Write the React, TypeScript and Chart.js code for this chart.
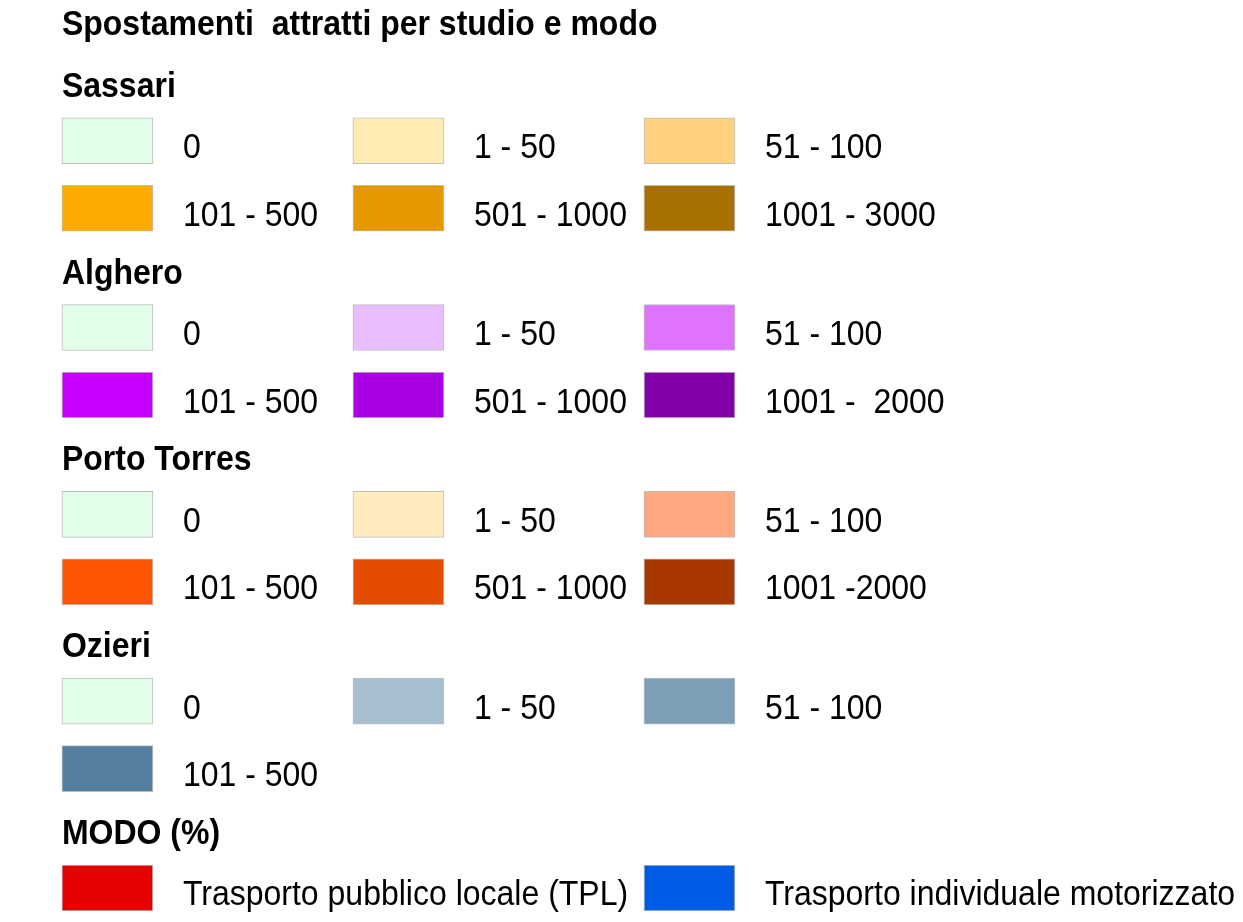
import React, { useEffect, useRef } from "react";
import { Chart, registerables } from "chart.js";

Chart.register(...registerables);

// ---- Data ----
const TITLE = "Spostamenti  attratti per studio e modo";

const GROUP_NAMES = ["Sassari", "Alghero", "Porto Torres", "Ozieri", "MODO (%)"];

const SASSARI_LABELS = ["0", "1 - 50", "51 - 100", "101 - 500", "501 - 1000", "1001 - 3000"];
const SASSARI_COLORS = ["#E3FEE8", "#FFEBB4", "#FFD17F", "#FFAA00", "#E69800", "#A87000"];

const ALGHERO_LABELS = ["0", "1 - 50", "51 - 100", "101 - 500", "501 - 1000", "1001 -  2000"];
const ALGHERO_COLORS = ["#E3FEE8", "#E8BEFF", "#DF73FF", "#C500FF", "#A900E6", "#8400A8"];

const PORTO_TORRES_LABELS = ["0", "1 - 50", "51 - 100", "101 - 500", "501 - 1000", "1001 -2000"];
const PORTO_TORRES_COLORS = ["#E3FEE8", "#FFEBBE", "#FFA77F", "#FF5500", "#E64C00", "#A83800"];

const OZIERI_LABELS = ["0", "1 - 50", "51 - 100", "101 - 500"];
const OZIERI_COLORS = ["#E3FEE8", "#A8BFCF", "#7D9EB7", "#557F9F"];

const MODO_LABELS = ["Trasporto pubblico locale (TPL)", "Trasporto individuale motorizzato"];
const MODO_COLORS = ["#E60000", "#005CE6"];

// ---- Layout (not data) ----
const PER_ROW = 3;
const HEADER_GAP = 0.767; // extra row units taken by each group header
const BAR_HALF = 0.34;
const MODO_COLUMNS = [0, 2];
const FONT = '"Liberation Sans", Arial, sans-serif';
const V_STRETCH = 1.1;

type Group = { name: string; labels: string[]; colors: string[]; columns?: number[] };

const GROUPS: Group[] = [
  { name: GROUP_NAMES[0], labels: SASSARI_LABELS, colors: SASSARI_COLORS },
  { name: GROUP_NAMES[1], labels: ALGHERO_LABELS, colors: ALGHERO_COLORS },
  { name: GROUP_NAMES[2], labels: PORTO_TORRES_LABELS, colors: PORTO_TORRES_COLORS },
  { name: GROUP_NAMES[3], labels: OZIERI_LABELS, colors: OZIERI_COLORS },
  { name: GROUP_NAMES[4], labels: MODO_LABELS, colors: MODO_COLORS, columns: MODO_COLUMNS },
];

function buildDatasets() {
  let rowBase = 0;
  return GROUPS.map((g, k) => {
    const rows = g.columns ? 1 : Math.ceil(g.labels.length / PER_ROW);
    const data = g.labels.map((_, i) => {
      const col = g.columns ? g.columns[i] : i % PER_ROW;
      const r = g.columns ? 0 : Math.floor(i / PER_ROW);
      const u = rowBase + r + HEADER_GAP * k;
      return { x: col, y: [u - BAR_HALF, u + BAR_HALF] };
    });
    rowBase += rows;
    return {
      label: g.name,
      data,
      backgroundColor: g.colors,
      borderColor: "#BEBEBE",
      borderWidth: 1,
      borderSkipped: false as const,
      barThickness: 91,
      grouped: false,
    };
  });
}

function drawText(ctx: CanvasRenderingContext2D, text: string, x: number, y: number, bold: boolean) {
  ctx.save();
  ctx.font = `${bold ? "bold " : ""}32px ${FONT}`;
  ctx.fillStyle = "#000000";
  ctx.textAlign = "left";
  ctx.textBaseline = "alphabetic";
  ctx.translate(x, y);
  ctx.scale(1, V_STRETCH);
  ctx.fillText(text, 0, 0);
  ctx.restore();
}

const labelPlugin = {
  id: "legendLabels",
  afterDatasetsDraw(chart: any) {
    const ctx = chart.ctx as CanvasRenderingContext2D;
    let titleDone = false;
    chart.data.datasets.forEach((ds: any, d: number) => {
      const meta = chart.getDatasetMeta(d);
      const g = GROUPS[d];
      meta.data.forEach((el: any, i: number) => {
        const p = el.getProps(["x", "y", "base", "width"], true);
        const top = Math.min(p.y, p.base);
        const bottom = Math.max(p.y, p.base);
        const cy = (top + bottom) / 2;
        drawText(ctx, g.labels[i], p.x + p.width / 2 + 30, cy + 17.5, false);
        if (i === 0) {
          const left = p.x - p.width / 2;
          const hb = top - 21;
          drawText(ctx, g.name, left, hb, true);
          if (!titleDone) {
            drawText(ctx, TITLE, left, hb - 62, true);
            titleDone = true;
          }
        }
      });
    });
  },
};

export default function App() {
  const ref = useRef<HTMLCanvasElement | null>(null);
  useEffect(() => {
    document.body.style.margin = "0";
    const canvas = ref.current;
    if (!canvas) return;
    const chart = new Chart(canvas, {
      type: "bar",
      data: { datasets: buildDatasets() as any },
      options: {
        responsive: false,
        animation: false,
        layout: { padding: 0 },
        plugins: { legend: { display: false }, tooltip: { enabled: false }, title: { display: false } },
        scales: {
          x: { type: "linear", offset: false, min: -0.369, max: 3.902, display: false },
          y: { type: "linear", reverse: true, min: -2.086, max: 11.573, display: false },
        },
      },
      plugins: [labelPlugin],
    });
    return () => chart.destroy();
  }, []);
  return (
    <div style={{ position: "absolute", left: 0, top: 0, width: 1243, height: 922, background: "#fff" }}>
      <canvas ref={ref} width={1243} height={922} style={{ display: "block" }} />
    </div>
  );
}
